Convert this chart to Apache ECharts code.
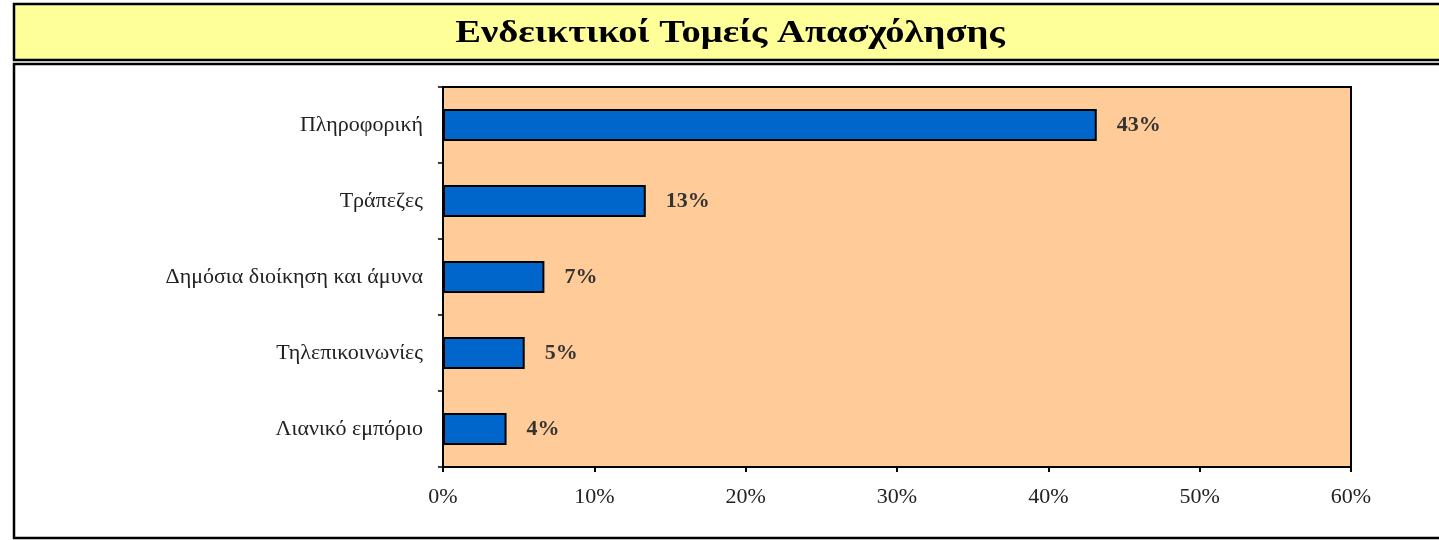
<!DOCTYPE html>
<html><head><meta charset="utf-8">
<script src="https://cdn.jsdelivr.net/npm/echarts@6/dist/echarts.min.js"></script>
<style>html,body{margin:0;padding:0;background:#fff}#c{width:1439px;height:540px}</style>
</head><body><div id="c"></div>
<script>
const titleText = 'Ενδεικτικοί Τομείς Απασχόλησης';
const categories = ['Πληροφορική', 'Τράπεζες', 'Δημόσια διοίκηση και άμυνα', 'Τηλεπικοινωνίες', 'Λιανικό εμπόριο'];
const values = [43.2, 13.4, 6.7, 5.4, 4.2];
const xTicks = [0, 10, 20, 30, 40, 50, 60];

const chart = echarts.init(document.getElementById('c'));
const serif = '"Liberation Serif", "DejaVu Serif", serif';
chart.setOption({
  animation: false,
  backgroundColor: '#ffffff',
  graphic: [
    { type: 'rect', z: -10, shape: { x: 14, y: 4, width: 1440, height: 56 }, style: { fill: '#FFFF99', stroke: '#000', lineWidth: 2.5 } },
    { type: 'rect', z: -10, shape: { x: 14, y: 64, width: 1440, height: 474 }, style: { fill: '#fff', stroke: '#000', lineWidth: 2.5 } },
    { type: 'text', z: 5, x: 730, y: 34, scaleX: 1.245, scaleY: 1,
      style: { text: titleText, fontFamily: serif, fontWeight: 'bold', fontSize: 31, fill: '#000', textAlign: 'center', textVerticalAlign: 'middle' } }
  ],
  grid: { left: 443, top: 87, width: 908, height: 380, show: true, backgroundColor: '#FFCC99', borderColor: '#000', borderWidth: 2, containLabel: false },
  xAxis: {
    type: 'value', min: xTicks[0], max: xTicks[xTicks.length - 1], interval: 10,
    splitLine: { show: false },
    axisLine: { show: true, lineStyle: { color: '#000', width: 2 } },
    axisTick: { show: true, length: 5, lineStyle: { color: '#000', width: 2 } },
    axisLabel: { formatter: v => v + '%', fontFamily: serif, fontSize: 22, color: '#222', margin: 19 }
  },
  yAxis: {
    type: 'category', data: categories, inverse: true,
    axisLine: { show: true, lineStyle: { color: '#000', width: 2 } },
    axisTick: { show: true, length: 5, lineStyle: { color: '#000', width: 1.5 } },
    axisLabel: { fontFamily: serif, fontSize: 22, color: '#222', margin: 20 }
  },
  series: [{
    type: 'bar', data: values, barWidth: 32,
    itemStyle: { color: '#0066CC', borderColor: '#000', borderWidth: 2 },
    label: { show: true, position: 'right', distance: 20, formatter: p => Math.round(p.value) + '%',
      fontFamily: serif, fontSize: 22, fontWeight: 'bold', color: '#333' }
  }]
});
</script></body></html>
